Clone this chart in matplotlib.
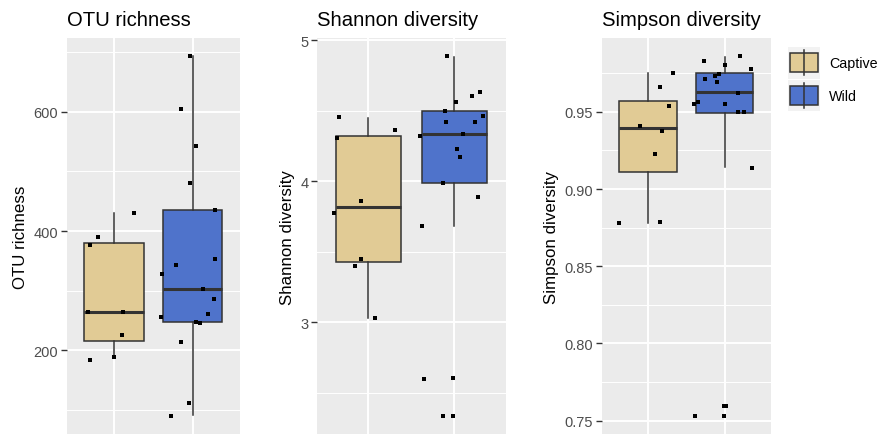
import matplotlib
matplotlib.use("Agg")
import matplotlib.pyplot as plt
from matplotlib.patches import Rectangle
from matplotlib.ticker import FixedLocator

plt.rcParams["font.family"] = ["Liberation Sans", "DejaVu Sans"]

groups = ["Captive", "Wild"]
fills = ["#e1cb95", "#4f73cb"]

# box stats: whisker low, q1, median, q3, whisker high
otu_box = [[189, 216, 264, 380, 430], [91, 248, 303, 436, 693]]
shannon_box = [[3.03, 3.43, 3.816, 4.323, 4.448], [3.681, 3.986, 4.337, 4.50, 4.885]]
simpson_box = [[0.8781, 0.9112, 0.9393, 0.9569, 0.975], [0.9141, 0.9494, 0.9627, 0.975, 0.9858]]

# jittered sample points (value, horizontal jitter)
otu_captive = [184, 376, 390, 430, 265, 265, 226, 189]
otu_captive_jit = [-0.31, -0.30, -0.20, 0.25, -0.33, 0.12, 0.10, 0.0]
otu_wild = [693, 604, 542, 481, 436, 353, 343, 328, 303, 286, 261, 256, 248, 246, 214, 111, 90]
otu_wild_jit = [-0.04, -0.15, 0.04, -0.03, 0.28, 0.28, -0.21, -0.39, 0.13, 0.27, 0.19, -0.40,
                0.04, 0.09, -0.15, -0.05, -0.28]

shannon_captive = [4.453, 4.309, 4.361, 3.861, 3.773, 3.448, 3.398, 3.033]
shannon_captive_jit = [-0.34, -0.36, 0.31, -0.085, -0.40, -0.09, -0.16, 0.08]
shannon_wild = [4.887, 4.63, 4.604, 4.562, 4.46, 4.498, 4.418, 4.422, 4.319, 4.335, 4.227,
                4.17, 3.988, 3.887, 3.681, 2.598, 2.603, 2.334, 2.334]
shannon_wild_jit = [-0.085, 0.30, 0.21, 0.016, 0.33, -0.11, -0.10, 0.24, -0.40, 0.10, 0.03,
                    0.07, -0.13, 0.27, -0.38, -0.35, -0.02, -0.13, -0.02]

simpson_captive = [0.8781, 0.8787, 0.9225, 0.9375, 0.9408, 0.9535, 0.9664, 0.9752]
simpson_captive_jit = [-0.37, 0.16, 0.09, 0.19, -0.10, 0.27, 0.16, 0.33]
simpson_wild = [0.986, 0.9832, 0.9806, 0.978, 0.9748, 0.9735, 0.9716, 0.9696, 0.9625, 0.9567,
                0.9548, 0.9554, 0.9496, 0.9496, 0.9134, 0.7530, 0.7594, 0.7594, 0.7530]
simpson_wild_jit = [0.20, -0.27, 0.01, 0.35, -0.07, -0.12, -0.25, -0.10, 0.17, -0.35, -0.40,
                    0.01, 0.18, 0.25, 0.36, -0.38, -0.01, 0.02, -0.01]

otu_major, otu_minor = [200, 400, 600], [100, 300, 500, 700]
shannon_major, shannon_minor = [3, 4, 5], [2.5, 3.5, 4.5]
simpson_major = [0.75, 0.80, 0.85, 0.90, 0.95]
simpson_minor = [0.775, 0.825, 0.875, 0.925, 0.975]

W, H = 877, 435
EDGE = "#333333"


def px_axes(fig, left, right, top, bottom):
    return fig.add_axes([left / W, 1 - bottom / H, (right - left) / W, (bottom - top) / H])


def panel(ax, title, box, points, jits, major, minor, fmt):
    ax.set_facecolor("#ebebeb")
    for s in ax.spines.values():
        s.set_visible(False)
    ax.set_xlim(0.4, 2.6)
    allv = [v for p in points for v in p] + [v for b in box for v in b]
    lo, hi = min(allv), max(allv)
    pad = 0.05 * (hi - lo)
    ax.set_ylim(lo - pad, hi + pad)

    ax.yaxis.set_major_locator(FixedLocator(major))
    ax.yaxis.set_minor_locator(FixedLocator(minor))
    ax.set_yticklabels([fmt.format(v) for v in major])
    ax.set_xticks([1, 2])
    ax.tick_params(axis="x", length=0, labelbottom=False)
    ax.tick_params(axis="y", which="major", length=4, width=1, color=EDGE,
                   labelsize=10.5, labelcolor="#4d4d4d", pad=2)
    ax.tick_params(axis="y", which="minor", length=0)
    ax.grid(True, which="major", color="white", lw=1.4)
    ax.grid(True, which="minor", axis="y", color="white", lw=0.7)
    ax.set_axisbelow(True)

    stats = []
    for g, b in zip(groups, box):
        stats.append({"label": g, "whislo": b[0], "q1": b[1], "med": b[2], "q3": b[3],
                      "whishi": b[4], "fliers": []})
    bp = ax.bxp(stats, positions=[1, 2], widths=0.75, patch_artist=True, showcaps=False,
                boxprops=dict(edgecolor=EDGE, linewidth=1.1),
                whiskerprops=dict(color=EDGE, linewidth=1.1),
                medianprops=dict(color=EDGE, linewidth=2.2))
    for patch, c in zip(bp["boxes"], fills):
        patch.set_facecolor(c)
    for i, (vals, jit) in enumerate(zip(points, jits)):
        ax.scatter([i + 1 + j for j in jit], vals, s=6, marker="s", color="black",
                   linewidths=0, zorder=5)

    ax.set_ylabel(title, fontsize=12.2, labelpad=4)
    ax.set_title(title, loc="left", fontsize=14.6, pad=9.5)


fig = plt.figure(figsize=(W / 100, H / 100), dpi=100)

ax1 = px_axes(fig, 66.7, 240, 39.3, 435)
panel(ax1, "OTU richness", otu_box, [otu_captive, otu_wild], [otu_captive_jit, otu_wild_jit],
      otu_major, otu_minor, "{:.0f}")
ax2 = px_axes(fig, 316.7, 506, 39.3, 435)
panel(ax2, "Shannon diversity", shannon_box, [shannon_captive, shannon_wild],
      [shannon_captive_jit, shannon_wild_jit], shannon_major, shannon_minor, "{:.0f}")
ax3 = px_axes(fig, 601.7, 770.7, 39.3, 435)
panel(ax3, "Simpson diversity", simpson_box, [simpson_captive, simpson_wild],
      [simpson_captive_jit, simpson_wild_jit], simpson_major, simpson_minor, "{:.2f}")

# legend drawn by hand, ggplot style keys
lg = px_axes(fig, 788, 820, 47.5, 113)
lg.set_xlim(0, 1)
lg.set_ylim(0, 2)
lg.invert_yaxis()
lg.axis("off")
for i, (g, c) in enumerate(zip(groups, fills)):
    lg.add_patch(Rectangle((0, i + 0.02), 1, 0.96, facecolor="#f2f2f2", edgecolor="none"))
    lg.plot([0.5, 0.5], [i + 0.12, i + 0.88], color=EDGE, lw=1.1)
    lg.add_patch(Rectangle((0.07, i + 0.21), 0.86, 0.58, facecolor=c, edgecolor=EDGE, lw=1.1))
    fig.text(829 / W, 1 - (64 + 33 * i) / H, g, fontsize=10.3, va="center", ha="left")

fig.savefig("out.png", dpi=100)
